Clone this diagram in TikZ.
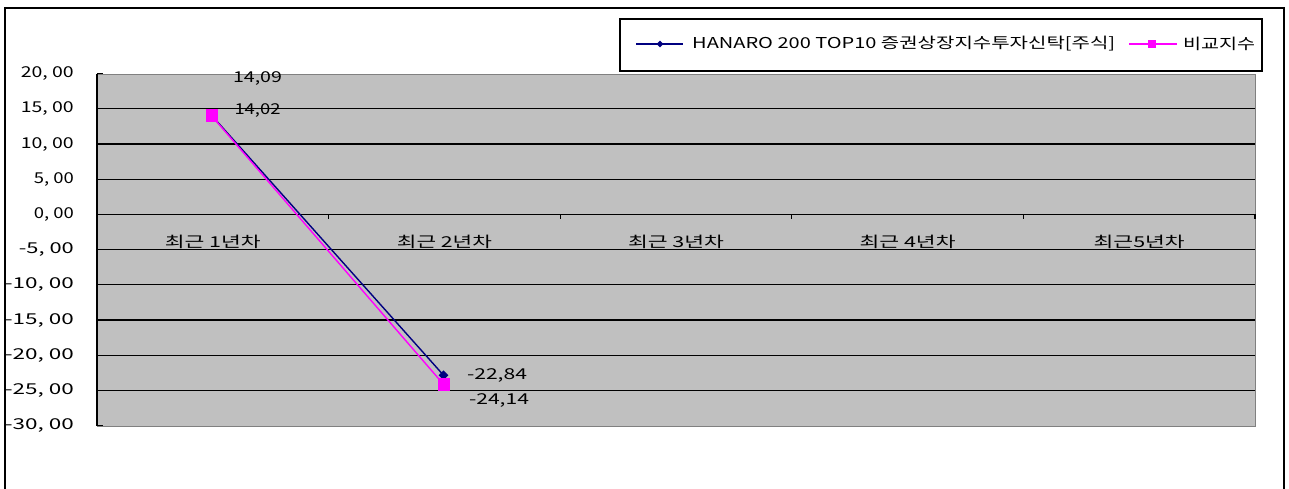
\documentclass[tikz,border=0pt]{standalone}
\usepackage{fontspec}
\setmainfont{Noto Sans CJK KR}
\usepackage{graphicx}
\usetikzlibrary{shapes.geometric}
\definecolor{navyc}{RGB}{0,0,128}
\definecolor{magc}{RGB}{255,0,255}
\definecolor{plotgray}{RGB}{192,192,192}
\definecolor{edgegray}{RGB}{128,128,128}
\newcommand{\fitw}[2]{\resizebox{#1}{\height}{#2}}
\tikzset{
  gridline/.style={black, line width=1.3pt},
  ylab/.style={anchor=east, inner sep=0pt},
  catlab/.style={inner sep=0pt},
  datalab/.style={inner sep=0pt},
  navymark/.style={diamond, fill=navyc, inner sep=0pt, minimum size=10pt},
  magmark/.style={rectangle, fill=magc, inner sep=0pt, minimum width=12pt, minimum height=13pt},
  navyline/.style={navyc, line width=1.4pt},
  magline/.style={magc, line width=1.4pt},
}
\begin{document}
\begin{tikzpicture}[x=1pt,y=-1pt,font=\fontsize{15}{18}\selectfont]
\useasboundingbox (0,0) rectangle (1289,488);
\clip (0,0) rectangle (1289,488);
\fill[white] (0,0) rectangle (1289,488);
% outer frame
\coordinate (fbl) at (5,500);
\coordinate (ftl) at (5,8);
\coordinate (ftr) at (1284,8);
\coordinate (fbr) at (1284,500);
\draw[black, line width=1.6pt] (fbl) -- (ftl) -- (ftr) -- (fbr);
% plot area
\node[draw=edgegray, fill=plotgray, line width=1pt, minimum width=1158pt, minimum height=352pt, inner sep=0pt, anchor=north west] (plot) at (97,74) {};
\begin{scope}[shift={(0,214.4)}, y=7.04pt]
  \foreach \v in {15,10,5,-5,-10,-15,-20,-25} {
    \draw[gridline] (97,\v) -- (1255,\v);
  }
  \foreach \v in {20,15,...,-30} {
    \draw[black, line width=1.2pt] (97,\v) -- ++(6pt,0);
  }
  \draw[black, line width=1.2pt] (97,20) -- (97,-30);
  % zero axis and category ticks
  \coordinate (z0) at (97,0);
  \coordinate (z5) at (1255,0);
  \draw[gridline] (z0) -- (z5);
  \foreach \c in {328.6,560.2,791.8,1023.4,1255} {
    \draw[black, line width=1.2pt] (\c,0) -- ++(0,-5pt);
  }
  % y labels
  \node[ylab] (y20) at (74,20) {\fitw{53pt}{20, 00}};
  \node[ylab] (y15) at (74,15) {\fitw{53pt}{15, 00}};
  \node[ylab] (y10) at (74,10) {\fitw{53pt}{10, 00}};
  \node[ylab] (y5) at (74,5) {\fitw{40pt}{5, 00}};
  \node[ylab] (y0) at (74,0) {\fitw{40pt}{0, 00}};
  \node[ylab] (ym5) at (74,-5) {\fitw{55pt}{-5, 00}};
  \node[ylab] (ym10) at (74,-10) {\fitw{69pt}{-10, 00}};
  \node[ylab] (ym15) at (74,-15) {\fitw{69pt}{-15, 00}};
  \node[ylab] (ym20) at (74,-20) {\fitw{69pt}{-20, 00}};
  \node[ylab] (ym25) at (74,-25) {\fitw{69pt}{-25, 00}};
  \node[ylab] (ym30) at (74,-30) {\fitw{69pt}{-30, 00}};
  % data points
  \coordinate (a1) at (211.5,14.09);
  \coordinate (a2) at (443.5,-22.84);
  \coordinate (b1) at (211.5,14.02);
  \coordinate (b2) at (443.5,-24.14);
  \draw[navyline] (a1) -- (a2);
  \draw[magline] (b1) -- (b2);
  \node[navymark] (ma1) at (a1) {};
  \node[navymark] (ma2) at (a2) {};
  \node[magmark] (mb1) at (b1) {};
  \node[magmark] (mb2) at (b2) {};
\end{scope}
% data labels
\node[datalab] (la1) at (257.5,78) {\fitw{49pt}{14,09}};
\node[datalab] (lb1) at (257.5,110) {\fitw{46pt}{14,02}};
\node[datalab] (la2) at (497,375) {\fitw{60pt}{-22,84}};
\node[datalab] (lb2) at (499,400) {\fitw{60pt}{-24,14}};
% category labels
\node[catlab] (c1) at (212.8,242) {\fitw{96pt}{최근 1년차}};
\node[catlab] (c2) at (444.4,242) {\fitw{95pt}{최근 2년차}};
\node[catlab] (c3) at (676.0,242) {\fitw{96pt}{최근 3년차}};
\node[catlab] (c4) at (907.6,242) {\fitw{96pt}{최근 4년차}};
\node[catlab] (c5) at (1139.2,242) {\fitw{91pt}{최근5년차}};
% legend
\node[draw=black, fill=white, line width=1.5pt, minimum width=642pt, minimum height=52pt, inner sep=0pt, anchor=north west] (legend) at (619,18) {};
\coordinate (l1s) at (636,44);
\coordinate (l1e) at (683,44);
\draw[navyline] (l1s) -- (l1e);
\node[diamond, fill=navyc, inner sep=0pt, minimum size=7pt] (lm1) at (660,44) {};
\node[anchor=west, inner sep=0pt] (lt1) at (692,44) {\fitw{423pt}{HANARO 200 TOP10 증권상장지수투자신탁[주식]}};
\coordinate (l2s) at (1129,44);
\coordinate (l2e) at (1177,44);
\draw[magline] (l2s) -- (l2e);
\node[rectangle, fill=magc, inner sep=0pt, minimum size=8pt] (lm2) at (1152,44) {};
\node[anchor=west, inner sep=0pt] (lt2) at (1183,44) {\fitw{72pt}{비교지수}};
\end{tikzpicture}
\end{document}
